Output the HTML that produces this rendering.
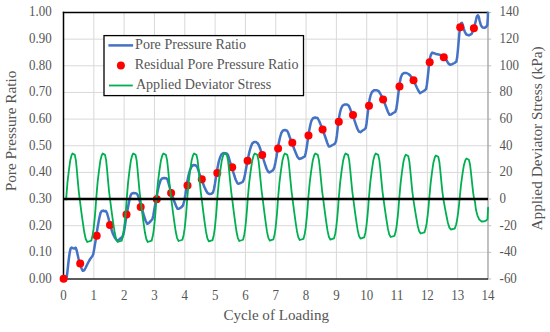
<!DOCTYPE html>
<html><head><meta charset="utf-8"><style>
html,body{margin:0;padding:0;background:#fff;}
svg{display:block;}
text{font-family:"Liberation Serif",serif;fill:#555555;}
</style></head><body>
<svg width="550" height="332" viewBox="0 0 550 332">
<rect width="550" height="332" fill="#fff"/>
<g stroke="#d9d9d9" stroke-width="1"><line x1="93.82" y1="12.5" x2="93.82" y2="279.0"/><line x1="124.14" y1="12.5" x2="124.14" y2="279.0"/><line x1="154.46" y1="12.5" x2="154.46" y2="279.0"/><line x1="184.79" y1="12.5" x2="184.79" y2="279.0"/><line x1="215.11" y1="12.5" x2="215.11" y2="279.0"/><line x1="245.43" y1="12.5" x2="245.43" y2="279.0"/><line x1="275.75" y1="12.5" x2="275.75" y2="279.0"/><line x1="306.07" y1="12.5" x2="306.07" y2="279.0"/><line x1="336.39" y1="12.5" x2="336.39" y2="279.0"/><line x1="366.71" y1="12.5" x2="366.71" y2="279.0"/><line x1="397.04" y1="12.5" x2="397.04" y2="279.0"/><line x1="427.36" y1="12.5" x2="427.36" y2="279.0"/><line x1="457.68" y1="12.5" x2="457.68" y2="279.0"/><line x1="63.5" y1="252.35" x2="488.0" y2="252.35"/><line x1="63.5" y1="225.70" x2="488.0" y2="225.70"/><line x1="63.5" y1="172.40" x2="488.0" y2="172.40"/><line x1="63.5" y1="145.75" x2="488.0" y2="145.75"/><line x1="63.5" y1="119.10" x2="488.0" y2="119.10"/><line x1="63.5" y1="92.45" x2="488.0" y2="92.45"/><line x1="63.5" y1="65.80" x2="488.0" y2="65.80"/><line x1="63.5" y1="39.15" x2="488.0" y2="39.15"/></g>
<g stroke="#bfbfbf" stroke-width="1"><line x1="488.0" y1="279.00" x2="491.2" y2="279.00"/><line x1="488.0" y1="252.35" x2="491.2" y2="252.35"/><line x1="488.0" y1="225.70" x2="491.2" y2="225.70"/><line x1="488.0" y1="199.05" x2="491.2" y2="199.05"/><line x1="488.0" y1="172.40" x2="491.2" y2="172.40"/><line x1="488.0" y1="145.75" x2="491.2" y2="145.75"/><line x1="488.0" y1="119.10" x2="491.2" y2="119.10"/><line x1="488.0" y1="92.45" x2="491.2" y2="92.45"/><line x1="488.0" y1="65.80" x2="491.2" y2="65.80"/><line x1="488.0" y1="39.15" x2="491.2" y2="39.15"/><line x1="488.0" y1="12.50" x2="491.2" y2="12.50"/></g>
<line x1="488.0" y1="11.9" x2="488.0" y2="279.6" stroke="#a6a6a6" stroke-width="1.4"/>
<line x1="63.5" y1="279.0" x2="488.0" y2="279.0" stroke="#262626" stroke-width="1.5"/>
<line x1="62.8" y1="12.5" x2="488.0" y2="12.5" stroke="#000" stroke-width="1.4"/>
<line x1="63.5" y1="11.8" x2="63.5" y2="279.7" stroke="#000" stroke-width="1.5"/>
<polyline points="63.50,279.00 66.00,278.60 66.80,276.50 67.50,271.00 68.20,264.50 69.00,257.50 69.80,252.00 70.60,248.60 71.60,247.50 73.00,248.20 74.30,248.50 75.70,247.70 76.70,250.50 77.60,254.50 78.50,258.50 80.00,263.50 81.50,268.50 82.80,270.80 84.20,270.30 85.50,268.00 87.20,264.50 89.00,261.00 90.50,258.50 92.30,256.30 93.30,254.00 94.20,249.00 95.00,244.00 95.80,239.50 97.50,228.00 99.30,218.00 100.50,213.00 101.80,211.00 103.30,210.60 104.50,211.30 105.80,210.90 107.00,213.00 108.30,217.50 109.80,223.50 111.50,229.50 113.20,234.50 115.00,238.00 116.80,240.20 118.50,240.20 120.30,238.50 122.30,237.00 123.50,234.00 124.50,228.50 125.50,222.00 126.50,216.00 127.80,208.50 129.20,201.00 130.40,196.00 131.60,193.60 133.50,193.00 135.50,193.20 137.00,193.80 138.30,196.50 139.50,200.50 141.00,205.50 142.50,210.50 144.00,216.00 145.50,220.50 147.30,223.80 149.00,222.80 150.80,221.00 152.40,219.20 153.30,215.50 154.30,209.50 155.30,204.00 156.50,197.50 157.80,190.50 159.20,184.50 160.60,180.30 162.00,178.40 164.00,178.00 166.20,178.20 167.50,179.50 168.60,183.50 170.00,188.50 171.40,193.00 172.80,197.50 174.30,201.50 176.00,205.80 177.60,208.80 179.00,208.80 181.00,207.50 183.00,205.50 184.20,201.00 185.30,195.00 186.30,188.50 187.30,181.50 188.60,175.00 190.00,170.00 191.60,166.50 193.40,165.00 195.50,165.20 197.20,167.00 198.50,170.50 199.80,175.00 201.00,178.50 202.50,182.00 204.20,186.50 206.00,190.50 207.60,193.20 209.50,194.00 211.50,193.80 213.00,192.50 214.00,189.00 215.00,183.50 216.20,175.50 217.50,168.00 218.80,161.50 220.20,157.00 221.70,154.00 223.50,153.00 225.50,153.20 227.00,153.60 228.20,155.50 229.50,160.00 231.00,165.00 232.40,169.50 234.00,174.50 235.60,179.50 237.20,182.80 238.30,183.80 240.50,183.00 242.80,181.80 244.00,179.00 245.00,174.50 246.00,169.00 247.00,163.50 248.20,157.50 249.50,151.50 250.80,147.00 252.20,143.50 254.00,142.00 256.00,142.00 257.60,143.20 259.00,145.50 260.50,149.50 262.00,154.50 263.50,159.50 265.00,164.20 266.50,168.50 268.00,171.50 269.30,172.40 271.30,171.30 273.20,170.10 274.40,167.30 275.40,162.50 276.50,156.50 277.60,149.50 278.70,143.50 280.00,137.50 281.30,133.00 283.00,130.40 285.00,130.00 287.00,130.70 288.30,133.00 289.50,136.50 291.00,140.50 292.60,144.50 294.20,149.00 295.80,153.00 297.40,156.80 299.20,159.00 301.50,158.30 303.50,157.20 304.80,156.50 305.70,153.00 306.60,148.00 307.50,142.00 308.40,135.50 309.30,130.00 310.30,125.00 311.40,120.80 313.00,118.20 315.00,117.50 317.50,118.00 319.20,121.00 320.80,125.00 322.50,129.50 324.20,134.00 325.80,138.50 327.30,143.00 328.80,146.50 330.50,146.30 332.50,145.00 334.80,143.80 336.00,141.30 336.80,136.00 337.50,130.00 338.20,124.00 339.00,118.00 339.90,113.00 341.00,108.80 342.50,105.80 344.50,104.40 347.00,104.40 348.80,105.80 350.00,108.50 351.30,112.00 352.80,115.80 354.30,119.80 355.80,124.30 357.30,128.50 358.80,131.50 360.40,132.20 362.20,130.80 364.30,129.50 365.80,127.80 366.50,123.50 367.20,117.50 368.00,111.00 368.80,105.00 369.60,99.50 370.60,95.30 372.00,92.00 374.00,90.30 376.50,90.20 378.70,91.20 380.20,93.50 381.70,96.30 383.20,99.50 384.70,103.20 386.20,107.20 387.80,111.50 389.40,114.80 391.00,114.60 393.20,113.00 395.30,111.90 396.40,108.50 397.20,103.00 398.00,96.50 398.80,90.00 399.70,83.00 400.80,77.50 402.20,74.30 404.00,73.00 406.50,73.00 408.50,74.00 410.50,75.80 412.00,78.20 413.60,80.80 415.20,84.00 416.80,87.50 418.30,90.50 420.00,93.10 422.00,92.00 424.50,90.50 426.20,88.80 426.90,84.50 427.60,78.50 428.30,72.00 429.10,64.00 429.90,58.50 430.80,55.00 432.20,52.60 434.00,53.20 436.00,54.00 438.50,54.40 441.00,55.20 443.20,56.50 445.00,58.30 446.60,60.50 448.20,63.20 450.00,64.80 452.10,64.20 454.50,63.00 456.40,61.50 457.20,57.00 457.90,50.00 458.60,42.00 459.30,34.00 460.10,26.50 461.00,23.30 461.90,22.80 462.80,25.00 463.70,28.30 464.80,31.80 466.40,34.50 469.00,35.40 471.70,33.90 473.90,28.50 475.70,21.30 476.80,16.50 477.80,15.30 478.70,16.50 479.70,21.00 481.00,25.50 482.60,27.60 484.50,27.80 486.20,26.80 487.30,25.30 487.80,18.00 488.00,12.80" fill="none" stroke="#4472c4" stroke-width="2.5" stroke-linejoin="round" stroke-linecap="round"/>
<g fill="#ff0000"><circle cx="63.6" cy="278.7" r="4"/><circle cx="80.2" cy="263.6" r="4"/><circle cx="96.7" cy="235.8" r="4"/><circle cx="110" cy="225" r="4"/><circle cx="126.5" cy="214.5" r="4"/><circle cx="140.7" cy="207.1" r="4"/><circle cx="156.8" cy="199.2" r="4"/><circle cx="171.1" cy="193" r="4"/><circle cx="187.5" cy="185.6" r="4"/><circle cx="201.8" cy="179.2" r="4"/><circle cx="217.3" cy="173" r="4"/><circle cx="232.2" cy="167.2" r="4"/><circle cx="247.6" cy="160.7" r="4"/><circle cx="262.2" cy="155" r="4"/><circle cx="278.1" cy="148.5" r="4"/><circle cx="292.3" cy="142.7" r="4"/><circle cx="308.5" cy="135.4" r="4"/><circle cx="322.6" cy="129.4" r="4"/><circle cx="338.8" cy="121.7" r="4"/><circle cx="353" cy="114.9" r="4"/><circle cx="369" cy="105.8" r="4"/><circle cx="383.1" cy="99.4" r="4"/><circle cx="399.5" cy="86.5" r="4"/><circle cx="413.5" cy="80.3" r="4"/><circle cx="429.7" cy="62.3" r="4"/><circle cx="443.8" cy="57.3" r="4"/><circle cx="460.2" cy="27.3" r="4"/><circle cx="473.9" cy="28.2" r="4"/></g>
<polyline points="66.10,199.60 67.46,182.62 68.82,170.79 70.18,160.78 71.54,155.32 72.49,153.50 74.80,154.87 75.89,160.32 76.71,168.51 77.66,179.44 78.75,191.26 79.70,199.00 81.35,211.90 82.84,222.65 84.32,232.54 85.72,238.99 87.29,242.00 91.25,240.71 92.57,235.55 93.56,229.10 94.72,218.35 95.54,208.46 96.20,199.00 97.58,182.62 98.96,170.79 100.34,160.78 101.72,155.32 102.69,153.50 105.03,154.87 106.14,160.32 106.96,168.51 107.93,179.44 109.03,191.26 110.00,199.00 111.67,211.90 113.17,222.65 114.68,232.54 116.10,238.99 117.68,242.00 121.69,240.71 123.03,235.55 124.03,229.10 125.20,218.35 126.03,208.46 126.70,199.00 128.08,182.62 129.46,170.79 130.84,160.78 132.22,155.32 133.19,153.50 135.53,154.87 136.64,160.32 137.46,168.51 138.43,179.44 139.53,191.26 140.50,199.00 142.09,211.90 143.52,222.65 144.95,232.54 146.30,238.99 147.81,242.00 151.63,240.71 152.90,235.55 153.86,229.10 154.97,218.35 155.76,208.46 156.40,199.00 157.89,182.62 159.38,170.79 160.87,160.78 162.36,155.32 163.40,153.50 165.94,154.87 167.13,160.32 168.02,168.51 169.06,179.44 170.26,191.26 171.30,199.00 172.89,211.60 174.32,222.10 175.75,231.76 177.10,238.06 178.61,241.00 182.43,239.74 183.70,234.70 184.66,228.40 185.77,217.90 186.56,208.24 187.20,199.00 188.65,182.62 190.10,170.79 191.55,160.78 193.00,155.32 194.01,153.50 196.48,154.87 197.64,160.32 198.51,168.51 199.52,179.44 200.69,191.26 201.70,199.00 203.25,211.69 204.65,222.26 206.05,231.99 207.38,238.34 208.85,241.30 212.59,240.03 213.83,234.95 214.76,228.61 215.85,218.03 216.63,208.31 217.25,199.00 218.75,182.62 220.24,170.79 221.73,160.78 223.23,155.32 224.28,153.50 226.82,154.87 228.01,160.32 228.91,168.51 229.96,179.44 231.15,191.26 232.20,199.00 233.75,211.60 235.14,222.10 236.54,231.76 237.86,238.06 239.33,241.00 243.05,239.74 244.29,234.70 245.22,228.40 246.30,217.90 247.08,208.24 247.70,199.00 249.20,182.62 250.70,170.79 252.20,160.78 253.70,155.32 254.75,153.50 257.30,154.87 258.50,160.32 259.40,168.51 260.45,179.44 261.65,191.26 262.70,199.00 264.23,211.48 265.61,221.88 266.98,231.45 268.28,237.69 269.74,240.60 273.41,239.35 274.63,234.36 275.55,228.12 276.62,217.72 277.39,208.15 278.00,199.00 279.45,182.62 280.91,170.79 282.37,160.78 283.82,155.32 284.84,153.50 287.31,154.87 288.48,160.32 289.35,168.51 290.37,179.44 291.53,191.26 292.55,199.00 294.12,211.30 295.52,221.55 296.93,230.98 298.26,237.13 299.75,240.00 303.50,238.77 304.76,233.85 305.70,227.70 306.79,217.45 307.57,208.02 308.20,199.00 309.70,182.62 311.20,170.79 312.70,160.78 314.20,155.32 315.25,153.50 317.80,154.87 319.00,160.32 319.90,168.51 320.95,179.44 322.15,191.26 323.20,199.00 324.75,211.18 326.14,221.33 327.54,230.67 328.86,236.76 330.33,239.60 334.05,238.38 335.29,233.51 336.22,227.42 337.31,217.27 338.08,207.93 338.70,199.00 340.16,182.62 341.62,170.79 343.08,160.78 344.54,155.32 345.56,153.50 348.04,154.87 349.21,160.32 350.09,168.51 351.11,179.44 352.28,191.26 353.30,199.00 354.85,210.88 356.25,220.78 357.64,229.89 358.96,235.83 360.43,238.60 364.15,237.41 365.39,232.66 366.32,226.72 367.41,216.82 368.18,207.71 368.80,199.00 370.27,182.62 371.74,170.79 373.21,160.78 374.68,155.32 375.71,153.50 378.21,154.87 379.38,160.32 380.27,168.51 381.30,179.44 382.47,191.26 383.50,199.00 385.07,210.40 386.48,219.90 387.90,228.64 389.23,234.34 390.72,237.00 394.49,235.86 395.75,231.30 396.69,225.60 397.79,216.10 398.57,207.36 399.20,199.00 400.61,183.05 402.02,171.53 403.43,161.79 404.84,156.47 405.83,154.70 408.22,156.03 409.35,161.34 410.20,169.32 411.19,179.95 412.31,191.47 413.30,199.00 414.89,209.35 416.32,217.97 417.75,225.91 419.10,231.09 420.61,233.50 424.43,232.47 425.70,228.32 426.66,223.15 427.77,214.53 428.56,206.59 429.20,199.00 430.62,183.34 432.03,172.03 433.44,162.46 434.86,157.24 435.85,155.50 438.26,156.81 439.39,162.03 440.24,169.85 441.23,180.30 442.36,191.60 443.35,199.00 444.98,208.15 446.44,215.78 447.90,222.79 449.28,227.37 450.83,229.50 454.73,228.59 456.03,224.93 457.00,220.35 458.14,212.72 458.95,205.71 459.60,199.00 461.05,184.42 462.50,173.89 463.95,164.98 465.40,160.12 466.42,158.50 468.88,159.72 470.04,164.57 470.91,171.87 471.93,181.59 473.09,192.12 474.10,199.00 475.00,201.80 475.90,209.50 477.40,215.30 479.30,219.60 481.70,221.50 484.10,221.30 486.00,220.60 487.50,219.10 488.10,207.60" fill="none" stroke="#00b050" stroke-width="1.8" stroke-linejoin="round" stroke-linecap="round"/>
<line x1="63.5" y1="199.0" x2="488.0" y2="199.0" stroke="#000" stroke-width="2.3"/>
<g font-size="13.6"><text x="51.6" y="282.90" text-anchor="end" textLength="22.61" lengthAdjust="spacingAndGlyphs">0.00</text><text x="499.6" y="282.90" textLength="17.22" lengthAdjust="spacingAndGlyphs">-60</text><text x="51.6" y="256.25" text-anchor="end" textLength="22.61" lengthAdjust="spacingAndGlyphs">0.10</text><text x="499.6" y="256.25" textLength="17.22" lengthAdjust="spacingAndGlyphs">-40</text><text x="51.6" y="229.60" text-anchor="end" textLength="22.61" lengthAdjust="spacingAndGlyphs">0.20</text><text x="499.6" y="229.60" textLength="17.22" lengthAdjust="spacingAndGlyphs">-20</text><text x="51.6" y="202.95" text-anchor="end" textLength="22.61" lengthAdjust="spacingAndGlyphs">0.30</text><text x="499.6" y="202.95" textLength="6.46" lengthAdjust="spacingAndGlyphs">0</text><text x="51.6" y="176.30" text-anchor="end" textLength="22.61" lengthAdjust="spacingAndGlyphs">0.40</text><text x="499.6" y="176.30" textLength="12.92" lengthAdjust="spacingAndGlyphs">20</text><text x="51.6" y="149.65" text-anchor="end" textLength="22.61" lengthAdjust="spacingAndGlyphs">0.50</text><text x="499.6" y="149.65" textLength="12.92" lengthAdjust="spacingAndGlyphs">40</text><text x="51.6" y="123.00" text-anchor="end" textLength="22.61" lengthAdjust="spacingAndGlyphs">0.60</text><text x="499.6" y="123.00" textLength="12.92" lengthAdjust="spacingAndGlyphs">60</text><text x="51.6" y="96.35" text-anchor="end" textLength="22.61" lengthAdjust="spacingAndGlyphs">0.70</text><text x="499.6" y="96.35" textLength="12.92" lengthAdjust="spacingAndGlyphs">80</text><text x="51.6" y="69.70" text-anchor="end" textLength="22.61" lengthAdjust="spacingAndGlyphs">0.80</text><text x="499.6" y="69.70" textLength="19.38" lengthAdjust="spacingAndGlyphs">100</text><text x="51.6" y="43.05" text-anchor="end" textLength="22.61" lengthAdjust="spacingAndGlyphs">0.90</text><text x="499.6" y="43.05" textLength="19.38" lengthAdjust="spacingAndGlyphs">120</text><text x="51.6" y="16.40" text-anchor="end" textLength="22.61" lengthAdjust="spacingAndGlyphs">1.00</text><text x="499.6" y="16.40" textLength="19.38" lengthAdjust="spacingAndGlyphs">140</text><text x="63.50" y="299.9" text-anchor="middle" textLength="6.46" lengthAdjust="spacingAndGlyphs">0</text><text x="93.82" y="299.9" text-anchor="middle" textLength="6.46" lengthAdjust="spacingAndGlyphs">1</text><text x="124.14" y="299.9" text-anchor="middle" textLength="6.46" lengthAdjust="spacingAndGlyphs">2</text><text x="154.46" y="299.9" text-anchor="middle" textLength="6.46" lengthAdjust="spacingAndGlyphs">3</text><text x="184.79" y="299.9" text-anchor="middle" textLength="6.46" lengthAdjust="spacingAndGlyphs">4</text><text x="215.11" y="299.9" text-anchor="middle" textLength="6.46" lengthAdjust="spacingAndGlyphs">5</text><text x="245.43" y="299.9" text-anchor="middle" textLength="6.46" lengthAdjust="spacingAndGlyphs">6</text><text x="275.75" y="299.9" text-anchor="middle" textLength="6.46" lengthAdjust="spacingAndGlyphs">7</text><text x="306.07" y="299.9" text-anchor="middle" textLength="6.46" lengthAdjust="spacingAndGlyphs">8</text><text x="336.39" y="299.9" text-anchor="middle" textLength="6.46" lengthAdjust="spacingAndGlyphs">9</text><text x="366.71" y="299.9" text-anchor="middle" textLength="12.92" lengthAdjust="spacingAndGlyphs">10</text><text x="397.04" y="299.9" text-anchor="middle" textLength="12.92" lengthAdjust="spacingAndGlyphs">11</text><text x="427.36" y="299.9" text-anchor="middle" textLength="12.92" lengthAdjust="spacingAndGlyphs">12</text><text x="457.68" y="299.9" text-anchor="middle" textLength="12.92" lengthAdjust="spacingAndGlyphs">13</text><text x="488.00" y="299.9" text-anchor="middle" textLength="12.92" lengthAdjust="spacingAndGlyphs">14</text></g>
<rect x="104" y="35.6" width="199.5" height="60" fill="#fff" stroke="#000" stroke-width="1.3"/>
<line x1="108.4" y1="45.4" x2="133.1" y2="45.4" stroke="#4472c4" stroke-width="2.5"/>
<circle cx="120.9" cy="65.4" r="4" fill="#ff0000"/>
<line x1="109" y1="85.5" x2="132.8" y2="85.5" stroke="#00b050" stroke-width="1.8"/>
<g font-size="13.6">
<text x="135.1" y="48.8" textLength="110.9" lengthAdjust="spacingAndGlyphs">Pore Pressure Ratio</text>
<text x="134.7" y="69.2" textLength="163.8" lengthAdjust="spacingAndGlyphs">Residual Pore Pressure Ratio</text>
<text x="135.9" y="89.2" textLength="135.3" lengthAdjust="spacingAndGlyphs">Applied Deviator Stress</text>
</g>
<g font-size="14.6">
<text x="223.4" y="320.4" textLength="105.6" lengthAdjust="spacingAndGlyphs">Cycle of Loading</text>
<text transform="translate(15.6,191.3) rotate(-90)" textLength="120.8" lengthAdjust="spacingAndGlyphs">Pore Pressure Ratio</text>
<text transform="translate(541.8,230.5) rotate(-90)" textLength="184.1" lengthAdjust="spacingAndGlyphs">Applied Deviator Stress (kPa)</text>
</g>
</svg>
</body></html>
